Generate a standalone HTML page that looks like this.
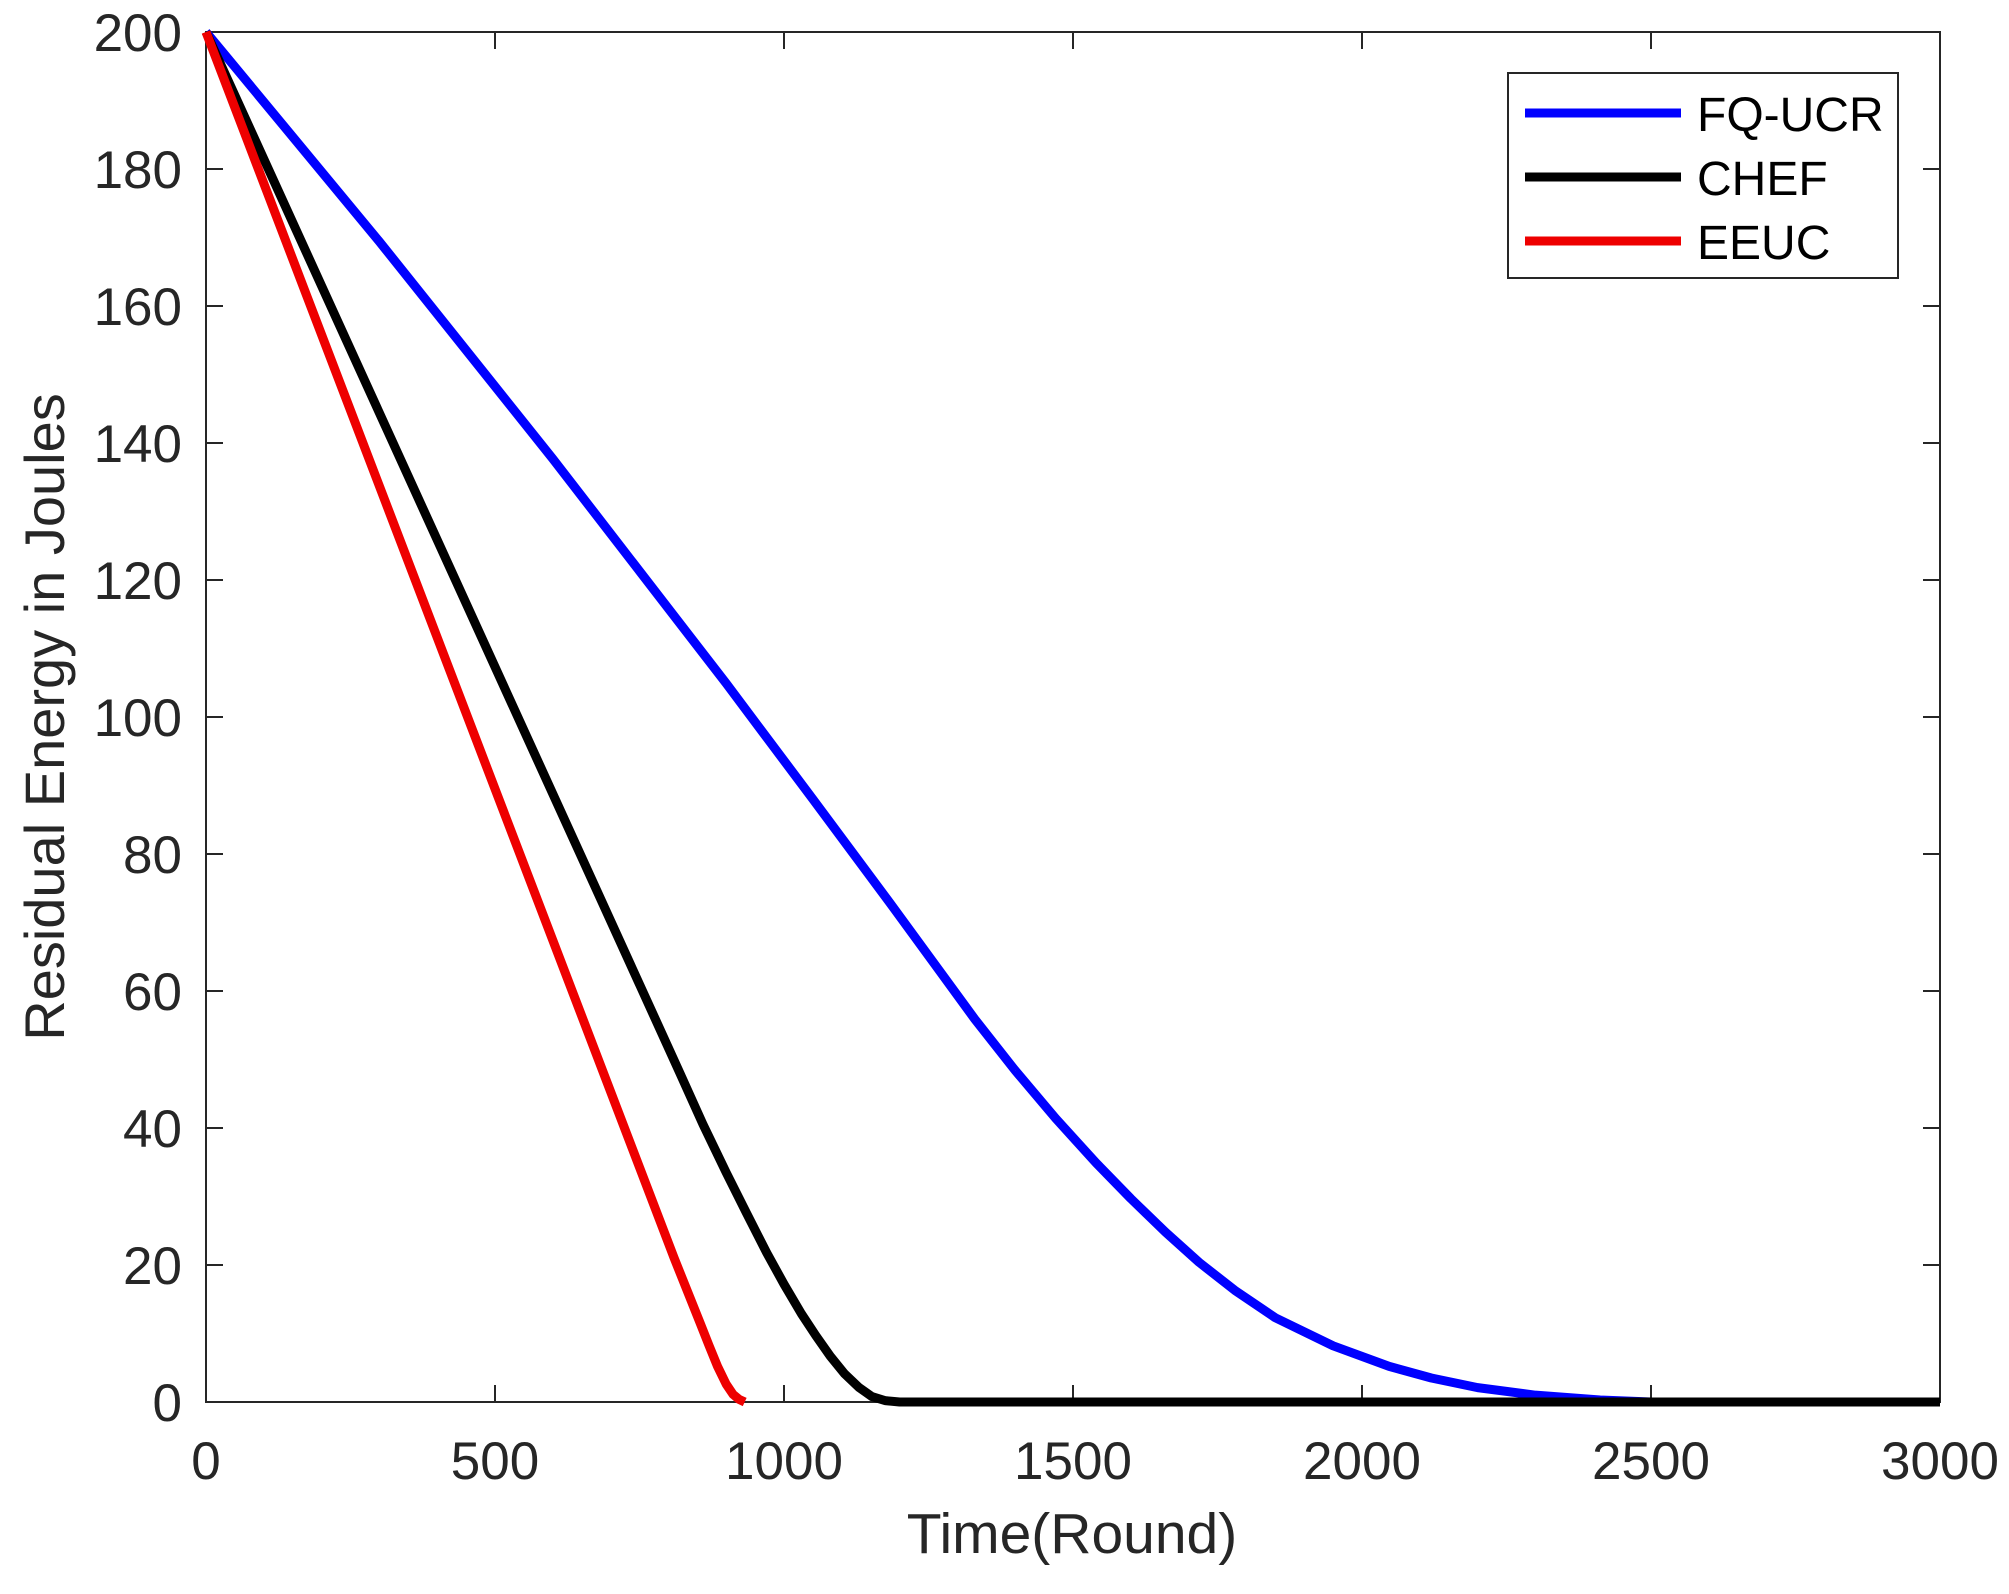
<!DOCTYPE html>
<html><head><style>html,body{margin:0;padding:0;background:#fff}</style></head>
<body>
<svg width="2009" height="1589" xmlns="http://www.w3.org/2000/svg" font-family="Liberation Sans, Arial, sans-serif" fill="#262626">
<rect width="2009" height="1589" fill="#fff"/>
<rect x="206" y="32" width="1734" height="1370" fill="none" stroke="#262626" stroke-width="2"/>
<g stroke="#262626" stroke-width="2">
<path d="M206,1402h17M206,1265h17M206,1128h17M206,991h17M206,854h17M206,717h17M206,580h17M206,443h17M206,306h17M206,169h17M206,32h17"/>
<path d="M1940,1402h-17M1940,1265h-17M1940,1128h-17M1940,991h-17M1940,854h-17M1940,717h-17M1940,580h-17M1940,443h-17M1940,306h-17M1940,169h-17M1940,32h-17"/>
<path d="M495,1402v-17M784,1402v-17M1073,1402v-17M1362,1402v-17M1651,1402v-17M495,32v17M784,32v17M1073,32v17M1362,32v17M1651,32v17"/>
</g>
<g font-size="53" text-anchor="end">
<text x="182" y="1421">0</text><text x="182" y="1284">20</text><text x="182" y="1147">40</text><text x="182" y="1010">60</text><text x="182" y="873">80</text><text x="182" y="736">100</text><text x="182" y="599">120</text><text x="182" y="462">140</text><text x="182" y="325">160</text><text x="182" y="188">180</text><text x="182" y="51">200</text>
</g>
<g font-size="53" text-anchor="middle">
<text x="206" y="1479">0</text><text x="495" y="1479">500</text><text x="784" y="1479">1000</text><text x="1073" y="1479">1500</text><text x="1362" y="1479">2000</text><text x="1651" y="1479">2500</text><text x="1940" y="1479">3000</text>
<text x="1072" y="1553" font-size="57">Time(Round)</text>
<text transform="translate(64,717) rotate(-90)" font-size="56">Residual Energy in Joules</text>
</g>
<g transform="translate(206,1402) scale(0.578,-6.85)" fill="none" stroke-linejoin="round">
<path vector-effect="non-scaling-stroke" stroke="#0000ff" stroke-width="9" d="M0,200 L300,169.4 L600,137.7 L900,104.9 L1050,88 L1182,73 L1260,64 L1330,55.9 L1400,48.4 L1470,41.4 L1540,34.9 L1600,29.7 L1660,24.8 L1718,20.4 L1780,16.3 L1850,12.3 L1950,8.2 L2047,5.2 L2120,3.5 L2200,2.1 L2300,1 L2412,0.3 L2500,0 L3000,0"/>
<path vector-effect="non-scaling-stroke" stroke="#000" stroke-width="9" d="M0,200 L820,48 L860,40.5 L900,33.5 L935,27.6 L970,21.8 L1000,17.2 L1030,12.9 L1055,9.7 L1080,6.7 L1105,4.1 L1130,2.1 L1152,0.8 L1175,0.2 L1200,0 L3000,0"/>
<path vector-effect="non-scaling-stroke" stroke="#ee0000" stroke-width="9" d="M0,200 L810,21 L855,11.5 L870,8.3 L885,5.2 L900,2.6 L912,1.1 L922,0.4 L932,0"/>
</g>
<rect x="1508" y="73" width="390" height="205" fill="#fff" stroke="#262626" stroke-width="2"/>
<g stroke-width="9">
<line x1="1525" y1="113" x2="1681" y2="113" stroke="#0000ff"/>
<line x1="1525" y1="177" x2="1681" y2="177" stroke="#000"/>
<line x1="1525" y1="241" x2="1681" y2="241" stroke="#ee0000"/>
</g>
<g font-size="48" fill="#000">
<text x="1697" y="131">FQ-UCR</text><text x="1697" y="195">CHEF</text><text x="1697" y="259">EEUC</text>
</g>
</svg>
</body></html>
